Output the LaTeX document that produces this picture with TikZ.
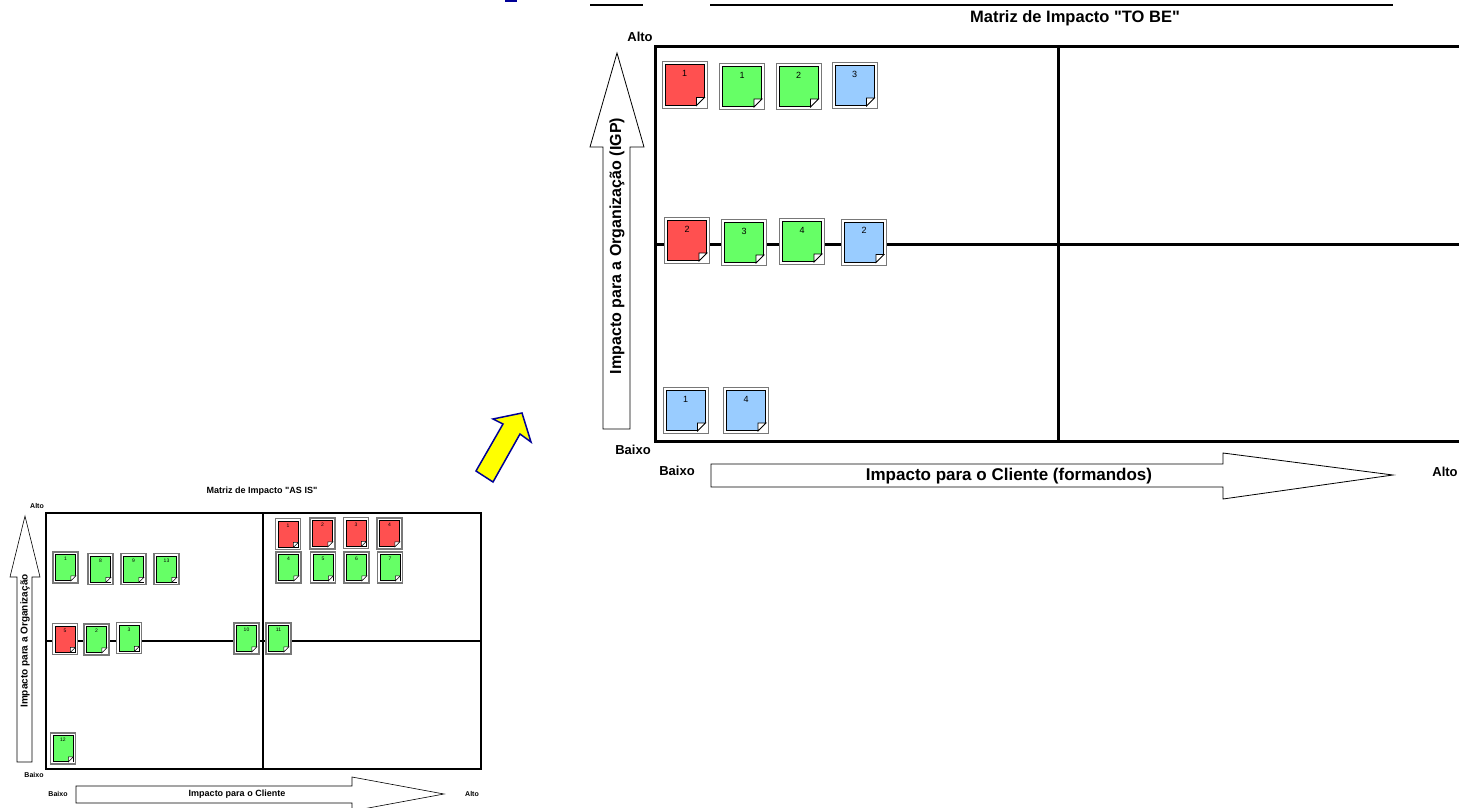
\documentclass[tikz,border=0pt]{standalone}
\usepackage{fontspec}
\setmainfont{Liberation Sans}[Ligatures=TeXOff]
\definecolor{nred}{RGB}{255,80,80}
\definecolor{ngreen}{RGB}{102,255,102}
\definecolor{nblue}{RGB}{153,204,255}
\definecolor{framegray}{RGB}{120,120,120}
\definecolor{arrowblue}{RGB}{0,0,150}
\definecolor{arrowyellow}{RGB}{255,255,0}
\tikzset{
  bigline/.style={line width=3pt},
  smallline/.style={line width=2pt},
  hollowarrow/.style={draw=black, line width=0.8pt, fill=white, line join=miter},
  bigframe/.style={draw=framegray, fill=white, line width=1pt, minimum width=45pt, minimum height=46pt, inner sep=0pt},
  bigbody/.style={draw=black, line width=1pt, minimum width=39pt, minimum height=40pt, inner sep=0pt},
  bignum/.style={font=\fontsize{9}{9}\selectfont, inner sep=0pt},
  smallframe/.style={draw=framegray, fill=white, line width=1.6pt, minimum width=25pt, minimum height=31pt, inner sep=0pt},
  smallbody/.style={draw=black, line width=0.8pt, minimum width=20pt, minimum height=26pt, inner sep=0pt},
  smallnum/.style={font=\fontsize{5}{5}\selectfont, inner sep=0pt},
  biglabel/.style={font=\bfseries\fontsize{17}{17}\selectfont, inner sep=0pt},
  vbiglabel/.style={font=\bfseries\fontsize{16}{16}\selectfont, inner sep=0pt},
  titlelabel/.style={font=\bfseries\fontsize{16.5}{16.5}\selectfont, inner sep=0pt},
  midlabel/.style={font=\bfseries\fontsize{13}{13}\selectfont, inner sep=0pt},
  smalllabel/.style={font=\bfseries\fontsize{9}{9}\selectfont, inner sep=0pt},
  vsmalllabel/.style={font=\bfseries\fontsize{10}{10}\selectfont, inner sep=0pt},
  tinylabel/.style={font=\bfseries\fontsize{7}{7}\selectfont, inner sep=0pt},
}
\newcommand\bignote[5]{%
  \node[bigframe] (#1) at (#2,#3) {};
  \node[bigbody, fill=#4] (#1b) at (#1.center) {};
  \fill[white] (#1b.south east) rectangle ++(-8,-8);
  \draw[line width=0.8pt, fill=white] ([xshift=-8pt]#1b.south east) -- ++(0,-8) -- ++(8,0) -- cycle;
  \node[bignum] at ([yshift=-9pt]#1b.north) {#5};
}
\newcommand\smallnote[5]{%
  \node[smallframe] (#1) at (#2,#3) {};
  \node[smallbody, fill=#4] (#1b) at (#1.center) {};
  \fill[white] (#1b.south east) rectangle ++(-5,-5);
  \draw[line width=0.5pt, fill=white] ([xshift=-5pt]#1b.south east) -- ++(0,-5) -- ++(5,0) -- cycle;
  \node[smallnum] at ([yshift=-5pt]#1b.north) {#5};
}
\begin{document}
\begin{tikzpicture}[x=1pt,y=-1pt]
\useasboundingbox (0,0) rectangle (1459,808);

% top fragments
\fill[arrowblue] (505,-2) rectangle (517,2);
\draw[line width=2pt] (590,5) -- (643,5);
\draw[line width=2pt] (710,5) -- (1393,5);

% ===== TO BE matrix =====
\node[titlelabel] (tobetitle) at (1075,18) {Matriz de Impacto "TO BE"};
\draw[bigline] (1470,47) -- (655,47) -- (655,441) -- (1470,441);
\draw[bigline] (655,244) -- (1470,244);
\draw[bigline] (1058,47) -- (1058,441);

\draw[hollowarrow] (603,429) -- (603,147) -- (590,147) -- (617,53) -- (644,147) -- (630,147) -- (630,429) -- cycle;
\node[vbiglabel, rotate=90] (tobey) at (617,246) {Impacto para a Organização (IGP)};
\draw[hollowarrow] (711,464) -- (1223,464) -- (1223,453) -- (1393,475) -- (1223,499) -- (1223,487) -- (711,487) -- cycle;
\node[biglabel] (tobex) at (1009,476) {Impacto para o Cliente (formandos)};

\node[midlabel] (tobealto1) at (640,37) {Alto};
\node[midlabel] (tobebaixo1) at (633,450) {Baixo};
\node[midlabel] (tobebaixo2) at (677,471) {Baixo};
\node[midlabel] (tobealto2) at (1445,472) {Alto};

\bignote{tr1}{684.5}{85}{nred}{1}
\bignote{tg1}{742}{86.5}{ngreen}{1}
\bignote{tg2}{798.5}{86.5}{ngreen}{2}
\bignote{tb3}{854.5}{85.5}{nblue}{3}
\bignote{tr2}{687}{240.5}{nred}{2}
\bignote{tg3}{744}{242.5}{ngreen}{3}
\bignote{tg4}{802}{241.5}{ngreen}{4}
\bignote{tb2}{864}{242}{nblue}{2}
\bignote{tb1}{685.5}{410.5}{nblue}{1}
\bignote{tb4}{746}{410.5}{nblue}{4}

% ===== yellow arrow =====
\draw[fill=arrowyellow, draw=arrowblue, line width=1.5pt, line join=miter]
  (522,413) -- (531,442) -- (520,434) -- (493,482) -- (476,471) -- (503,424) -- (493,419) -- cycle;

% ===== AS IS matrix =====
\node[smalllabel] (asistitle) at (262,491) {Matriz de Impacto "AS IS"};
\draw[smallline] (46,513) rectangle (481,769);
\draw[smallline] (46,641) -- (481,641);
\draw[smallline] (263,513) -- (263,769);

\draw[hollowarrow, line width=0.6pt] (17,762) -- (17,577) -- (10,577) -- (25,516) -- (40,577) -- (32,577) -- (32,762) -- cycle;
\node[vsmalllabel, rotate=90] (asisy) at (25,641) {Impacto para a Organização};
\draw[hollowarrow, line width=0.6pt] (76,786) -- (352,786) -- (352,777) -- (444,794) -- (352,811) -- (352,803) -- (76,803) -- cycle;
\node[smalllabel] (asisx) at (237,794) {Impacto para o Cliente};

\node[tinylabel] (asisalto1) at (37,506) {Alto};
\node[tinylabel] (asisbaixo1) at (34,775) {Baixo};
\node[tinylabel] (asisbaixo2) at (58,794) {Baixo};
\node[tinylabel] (asisalto2) at (472,794) {Alto};

\smallnote{s1}{65.5}{567.5}{ngreen}{1}
\smallnote{s8}{100.5}{569}{ngreen}{8}
\smallnote{s9}{133.5}{569}{ngreen}{9}
\smallnote{s13}{166.5}{569}{ngreen}{13}
\smallnote{s5}{65}{639}{nred}{5}
\smallnote{s2}{96.5}{639.5}{ngreen}{2}
\smallnote{s3}{129}{638}{ngreen}{3}
\smallnote{s10}{246.5}{638.5}{ngreen}{10}
\smallnote{s11}{278.5}{638.5}{ngreen}{11}
\smallnote{sr1}{288}{534}{nred}{1}
\smallnote{sr2}{322.5}{533.5}{nred}{2}
\smallnote{sr3}{356}{533}{nred}{3}
\smallnote{sr4}{389.5}{533.5}{nred}{4}
\smallnote{s4}{288.5}{567.5}{ngreen}{4}
\smallnote{s5b}{323}{567.5}{ngreen}{5}
\smallnote{s6}{356.5}{567.5}{ngreen}{6}
\smallnote{s7}{390}{567.5}{ngreen}{7}
\smallnote{s12}{63}{748.5}{ngreen}{12}
\end{tikzpicture}
\end{document}
